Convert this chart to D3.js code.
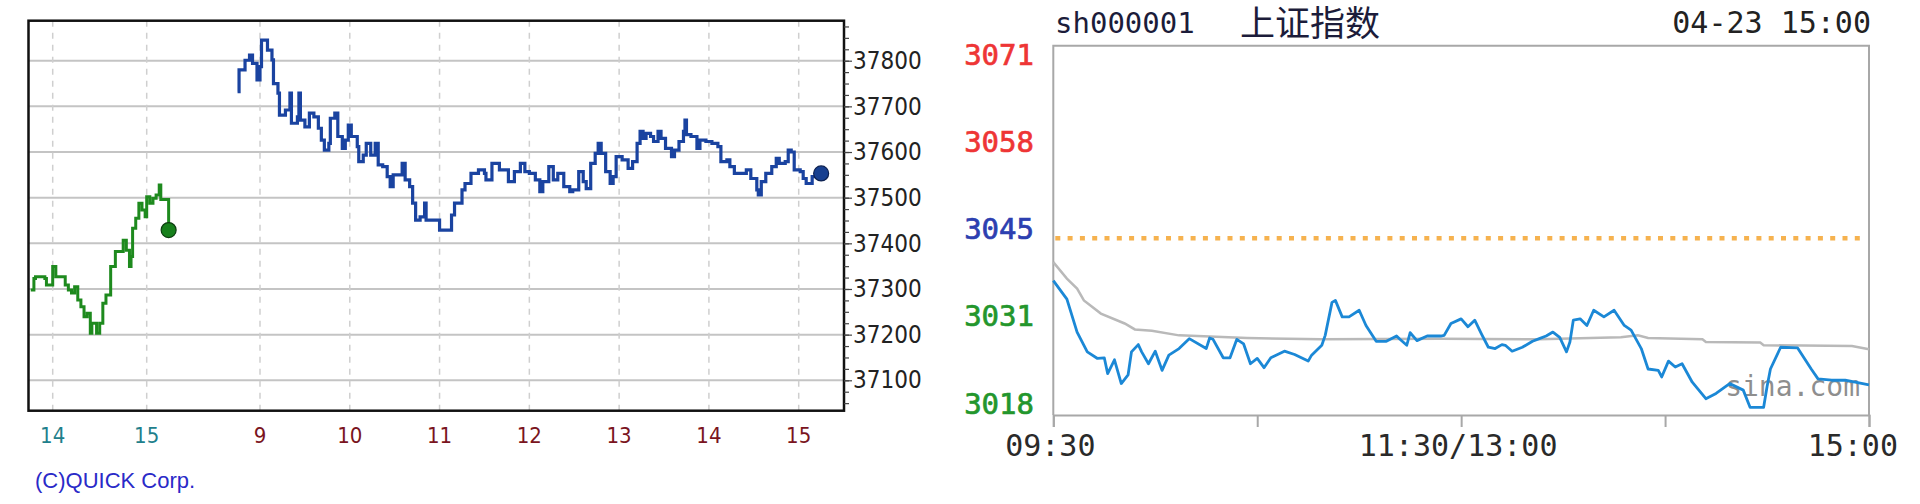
<!DOCTYPE html>
<html>
<head>
<meta charset="utf-8">
<script src="https://cdn.jsdelivr.net/npm/d3@7"></script>
<style>
  body { margin: 0; background: #fff; }
  svg { display: block; }
  .narrow { font-family: "Liberation Sans Narrow", "DejaVu Sans Condensed", "Arial Narrow", sans-serif; }
  .mono { font-family: "DejaVu Sans Mono", monospace; }
</style>
</head>
<body>
<svg id="chart" width="1920" height="504"></svg>
<script>
"use strict";

// ---- left panel: Nikkei 225 futures (previous afternoon + today's day session) ----
var nkYTicks = [37100, 37200, 37300, 37400, 37500, 37600, 37700, 37800];
var nkPrevHours = ["14:00", "15:00"];
var nkTodayHours = ["09:00", "10:00", "11:00", "12:00", "13:00", "14:00", "15:00"];

var nkPrev = [
  ["13:46",37298],["13:48",37323],["13:49",37327],["13:55",37323],["13:56",37309],["13:58",37309],
  ["14:00",37349],["14:02",37327],["14:04",37327],["14:08",37309],["14:10",37298],["14:12",37291],
  ["14:14",37305],["14:16",37276],["14:18",37261],["14:20",37239],["14:22",37247],["14:24",37203],
  ["14:25",37225],["14:28",37203],["14:30",37225],["14:32",37269],["14:34",37287],["14:37",37349],
  ["14:40",37382],["14:45",37407],["14:47",37385],["14:49",37349],["14:50",37371],["14:51",37433],
  ["14:53",37455],["14:55",37488],["14:57",37473],["14:59",37458],["15:00",37502],["15:02",37488],
  ["15:04",37499],["15:06",37506],["15:08",37528],["15:09",37496],["15:14",37429]
];

var nkToday = [
  ["08:45",37732],["08:46",37780],["08:50",37801],["08:53",37812],["08:55",37794],["08:58",37758],
  ["09:00",37787],["09:01",37845],["09:04",37845],["09:05",37823],["09:08",37802],["09:09",37750],
  ["09:12",37729],["09:13",37681],["09:17",37692],["09:20",37729],["09:21",37663],["09:25",37677],
  ["09:26",37729],["09:27",37670],["09:30",37655],["09:33",37685],["09:36",37677],["09:39",37652],
  ["09:41",37626],["09:43",37604],["09:46",37619],["09:47",37674],["09:50",37685],["09:52",37634],
  ["09:55",37608],["09:57",37626],["09:59",37659],["10:01",37634],["10:05",37612],["10:06",37579],
  ["10:09",37593],["10:11",37619],["10:14",37593],["10:17",37619],["10:19",37572],["10:22",37568],
  ["10:25",37546],["10:27",37524],["10:29",37550],["10:35",37575],["10:37",37539],["10:40",37524],
  ["10:42",37488],["10:44",37451],["10:47",37458],["10:50",37488],["10:51",37451],["10:58",37451],
  ["11:00",37429],["11:05",37429],["11:08",37462],["11:10",37488],["11:15",37517],["11:17",37531],
  ["11:21",37553],["11:26",37561],["11:30",37553],["11:31",37539],["11:35",37575],["11:39",37575],
  ["11:40",37561],["11:45",37561],["11:46",37535],["11:50",37557],["11:54",37575],["11:57",37557],
  ["12:00",37553],["12:04",37539],["12:07",37513],["12:09",37535],["12:13",37568],["12:16",37539],
  ["12:19",37553],["12:23",37524],["12:27",37513],["12:29",37517],["12:33",37557],["12:36",37535],
  ["12:38",37520],["12:41",37575],["12:44",37597],["12:46",37619],["12:48",37597],["12:51",37557],
  ["12:54",37531],["12:56",37546],["12:58",37590],["13:02",37583],["13:06",37564],["13:09",37579],
  ["13:12",37619],["13:14",37645],["13:16",37630],["13:18",37641],["13:21",37634],["13:23",37623],
  ["13:26",37645],["13:28",37630],["13:31",37608],["13:35",37590],["13:37",37604],["13:40",37623],
  ["13:43",37645],["13:44",37670],["13:45",37638],["13:48",37634],["13:52",37608],["13:54",37626],
  ["13:58",37623],["14:02",37619],["14:06",37612],["14:08",37579],["14:12",37583],["14:14",37568],
  ["14:17",37553],["14:22",37553],["14:25",37561],["14:28",37542],["14:32",37517],["14:33",37506],
  ["14:35",37535],["14:38",37553],["14:42",37568],["14:45",37586],["14:47",37575],["14:51",37579],
  ["14:53",37604],["14:55",37600],["14:57",37561],["15:01",37557],["15:03",37542],["15:05",37531],
  ["15:09",37546],["15:12",37550],["15:15",37553]
];

// ---- right panel: Shanghai composite, minutes after 09:30 (lunch break removed) ----
var sseCode = "sh000001", sseName = "上证指数", sseStamp = "04-23 15:00";
var ssePrevClose = 3044.6;
var sseLevels = [3071, 3057.8, 3044.6, 3031.4, 3018.2];
var sseTicks = [0, 60, 120, 180, 240];
var sseTimeLabels = [[0, "09:30"], [120, "11:30/13:00"], [240, "15:00"]];

var ssePrice = [
  [0,3038.2],[4,3035.4],[7,3030.4],[10,3027.4],[13,3026.4],[15,3026.5],[16,3024.1],[18,3026.2],
  [20,3022.6],[22,3023.9],[23,3027.4],[25,3028.5],[26,3027.4],[28,3025.6],[30,3027.5],[32,3024.6],
  [34,3026.9],[37,3027.9],[40,3029.4],[45,3027.9],[46,3029.5],[47,3029.3],[50,3026.5],[52,3026.5],
  [54,3029.3],[56,3028.6],[58,3025.6],[60,3026.4],[62,3025.0],[64,3026.5],[68,3027.5],[71,3027.0],
  [75,3026.0],[76,3026.9],[79,3028.4],[80,3029.9],[82,3034.9],[83,3035.2],[85,3032.7],[87,3032.7],
  [90,3033.7],[92,3031.4],[95,3029.0],[98,3029.0],[101,3029.8],[102,3029.3],[104,3028.4],[105,3030.3],
  [107,3029.1],[110,3029.8],[114,3029.8],[115,3029.9],[117,3031.7],[120,3032.4],[122,3031.2],[124,3032.2],
  [126,3030.1],[128,3028.1],[130,3027.9],[132,3028.5],[133,3028.4],[135,3027.5],[138,3028.1],[141,3029.0],
  [143,3029.4],[145,3029.8],[147,3030.4],[149,3029.6],[151,3027.4],[152,3028.9],[153,3032.2],[155,3032.4],
  [157,3031.4],[159,3033.7],[162,3032.7],[165,3033.7],[168,3031.4],[170,3030.7],[173,3027.9],[175,3024.8],
  [178,3024.6],[179,3023.6],[181,3026.0],[183,3025.1],[185,3025.6],[188,3022.8],[192,3020.3],[195,3021.1],
  [199,3022.6],[203,3021.6],[205,3019.0],[209,3019.0],[210,3022.1],[211,3024.8],[214,3028.1],[219,3028.0],
  [223,3024.8],[225,3023.3],[229,3023.1],[233,3023.1],[240,3022.4]
];

var sseAvg = [
  [0,3041.0],[4,3038.5],[7,3037.0],[9,3035.2],[14,3033.2],[21,3031.7],[24,3030.8],[29,3030.6],
  [37,3029.9],[57,3029.5],[79,3029.3],[114,3029.4],[143,3029.3],[167,3029.6],[172,3029.9],[175,3029.5],
  [191,3029.3],[192,3028.9],[208,3028.8],[209,3028.4],[235,3028.3],[240,3027.8]
];

var svg = d3.select("#chart");
var parseT = d3.timeParse("%H:%M");

// ================= left panel =================
var nk = {left: 28.5, top: 20.7, right: 844, bottom: 410.7};
var yNk = d3.scaleLinear().domain([37100, 37800]).range([380.3, 60.7]);
var xPrev = d3.scaleTime().domain([parseT("14:00"), parseT("15:00")]).range([52.7, 146.7]);
var xToday = d3.scaleTime().domain([parseT("09:00"), parseT("15:00")]).range([260, 798.7]);
var hourFmt = d3.timeFormat("%-H");

var left = svg.append("g");

// horizontal grid
left.selectAll(".hgrid")
  .data(nkYTicks)
  .enter().append("line")
  .attr("x1", nk.left).attr("x2", nk.right)
  .attr("y1", function (d) { return yNk(d); })
  .attr("y2", function (d) { return yNk(d); })
  .attr("stroke", "#c4c4c4")
  .attr("stroke-width", 2);

// vertical dashed grid
var vgrid = nkPrevHours.map(function (h) { return xPrev(parseT(h)); })
  .concat(nkTodayHours.map(function (h) { return xToday(parseT(h)); }));
left.selectAll(".vgrid")
  .data(vgrid)
  .enter().append("line")
  .attr("x1", function (d) { return d; })
  .attr("x2", function (d) { return d; })
  .attr("y1", nk.top).attr("y2", nk.bottom)
  .attr("stroke", "#cfcfcf")
  .attr("stroke-width", 1.5)
  .attr("stroke-dasharray", "6,6");

// box
left.append("rect")
  .attr("x", nk.left).attr("y", nk.top)
  .attr("width", nk.right - nk.left).attr("height", nk.bottom - nk.top)
  .attr("fill", "none")
  .attr("stroke", "#111")
  .attr("stroke-width", 2.5);

// right axis: minor ticks every 25, labelled ticks every 100
var minorAxis = d3.axisRight(yNk)
  .tickValues(d3.range(37050, 37876, 25))
  .tickSize(5)
  .tickFormat("");
left.append("g")
  .attr("transform", "translate(" + nk.right + ",0)")
  .call(minorAxis)
  .call(function (g) { g.select(".domain").remove(); })
  .selectAll("line").attr("stroke", "#444").attr("stroke-width", 1.2);

var majorAxis = d3.axisRight(yNk)
  .tickValues(nkYTicks)
  .tickSize(8)
  .tickPadding(1)
  .tickFormat(d3.format("d"));
var yAxisG = left.append("g")
  .attr("transform", "translate(" + nk.right + ",0)")
  .call(majorAxis);
yAxisG.select(".domain").remove();
yAxisG.selectAll("line").attr("stroke", "#444").attr("stroke-width", 1.2);
yAxisG.selectAll("text")
  .attr("class", "narrow")
  .attr("font-size", 24)
  .attr("fill", "#222");

// bottom hour labels
left.selectAll(".prevLabel")
  .data(nkPrevHours)
  .enter().append("text")
  .attr("class", "narrow")
  .attr("x", function (d) { return xPrev(parseT(d)); })
  .attr("y", 443)
  .attr("text-anchor", "middle")
  .attr("font-size", 22)
  .attr("fill", "#1f7f8c")
  .text(function (d) { return hourFmt(parseT(d)); });

left.selectAll(".todayLabel")
  .data(nkTodayHours)
  .enter().append("text")
  .attr("class", "narrow")
  .attr("x", function (d) { return xToday(parseT(d)); })
  .attr("y", 443)
  .attr("text-anchor", "middle")
  .attr("font-size", 22)
  .attr("fill", "#7a1420")
  .text(function (d) { return hourFmt(parseT(d)); });

left.append("text")
  .attr("x", 35).attr("y", 488)
  .attr("font-family", "Liberation Sans, sans-serif")
  .attr("font-size", 22)
  .attr("fill", "#2a2ac8")
  .text("(C)QUICK Corp.");

// price lines
function nkLine(xs) {
  return d3.line()
    .x(function (d) { return xs(parseT(d[0])); })
    .y(function (d) { return yNk(d[1]); })
    .curve(d3.curveStepAfter);
}

left.append("path")
  .datum(nkPrev)
  .attr("d", nkLine(xPrev))
  .attr("fill", "none")
  .attr("stroke", "#1e8a1e")
  .attr("stroke-width", 3);

left.append("path")
  .datum(nkToday)
  .attr("d", nkLine(xToday))
  .attr("fill", "none")
  .attr("stroke", "#1a43a0")
  .attr("stroke-width", 3.2);

var prevLast = nkPrev[nkPrev.length - 1];
var todayLast = nkToday[nkToday.length - 1];
left.append("circle")
  .attr("cx", xPrev(parseT(prevLast[0])))
  .attr("cy", yNk(prevLast[1]))
  .attr("r", 7.5)
  .attr("fill", "#17801c")
  .attr("stroke", "#0d3d10")
  .attr("stroke-width", 1.2);
left.append("circle")
  .attr("cx", xToday(parseT(todayLast[0])))
  .attr("cy", yNk(todayLast[1]))
  .attr("r", 7.5)
  .attr("fill", "#173f90")
  .attr("stroke", "#0c2050")
  .attr("stroke-width", 1.2);

// ================= right panel =================
var ss = {left: 1053.3, top: 45.7, right: 1869, bottom: 415};
var xSse = d3.scaleLinear().domain([0, 240]).range([ss.left, ss.right]);
var ySse = d3.scaleLinear().domain([3017.83, 3073.8]).range([ss.bottom, ss.top]);

var right = svg.append("g");

right.append("text")
  .attr("class", "mono")
  .attr("x", 1055).attr("y", 33)
  .attr("font-size", 29)
  .attr("fill", "#1c1c3a")
  .text(sseCode);
right.append("text")
  .attr("x", 1240).attr("y", 36)
  .attr("font-family", "Noto Sans CJK SC, sans-serif")
  .attr("font-size", 35)
  .attr("fill", "#1c1c3a")
  .text(sseName);
right.append("text")
  .attr("class", "mono")
  .attr("x", 1871).attr("y", 33)
  .attr("text-anchor", "end")
  .attr("font-size", 30)
  .attr("fill", "#222")
  .text(sseStamp);

// frame: top, left, right and the time axis
right.append("path")
  .attr("d", "M" + ss.left + "," + ss.bottom + "V" + ss.top + "H" + ss.right + "V" + ss.bottom)
  .attr("fill", "none")
  .attr("stroke", "#a8a8a8")
  .attr("stroke-width", 2);

var xAxisSse = d3.axisBottom(xSse)
  .tickValues(sseTicks)
  .tickSize(12)
  .tickFormat("");
right.append("g")
  .attr("transform", "translate(0," + ss.bottom + ")")
  .call(xAxisSse)
  .call(function (g) {
    g.select(".domain").attr("stroke", "#a8a8a8").attr("stroke-width", 2);
    g.selectAll("line").attr("stroke", "#a8a8a8").attr("stroke-width", 2);
  });

right.selectAll(".tlabel")
  .data(sseTimeLabels)
  .enter().append("text")
  .attr("class", "mono")
  .attr("x", function (d) { return d[0] === 240 ? xSse(d[0]) + 29 : xSse(d[0]) - 3; })
  .attr("y", 456)
  .attr("text-anchor", function (d) { return d[0] === 240 ? "end" : "middle"; })
  .attr("font-size", 30)
  .attr("fill", "#2a2a2a")
  .text(function (d) { return d[1]; });

// price level labels
var fmt0 = d3.format(".0f");
right.selectAll(".level")
  .data(sseLevels)
  .enter().append("text")
  .attr("class", "mono")
  .attr("x", 1034)
  .attr("y", function (d) { return ySse(d) + 1; })
  .attr("text-anchor", "end")
  .attr("font-size", 29)
  .attr("fill", function (d) {
    if (d > ssePrevClose) return "#ee3535";
    if (d < ssePrevClose) return "#23962c";
    return "#2d3fb0";
  })
  .attr("stroke", function (d) {
    if (d > ssePrevClose) return "#ee3535";
    if (d < ssePrevClose) return "#23962c";
    return "#2d3fb0";
  })
  .attr("stroke-width", 0.7)
  .text(function (d) { return fmt0(d); });

// previous close
right.append("line")
  .attr("x1", ss.left + 2).attr("x2", ss.right - 2)
  .attr("y1", ySse(ssePrevClose)).attr("y2", ySse(ssePrevClose))
  .attr("stroke", "#f6b24f")
  .attr("stroke-width", 4.5)
  .attr("stroke-dasharray", "5,7.3");

// watermark
right.append("text")
  .attr("class", "mono")
  .attr("x", 1860).attr("y", 396)
  .attr("text-anchor", "end")
  .attr("font-size", 28)
  .attr("fill", "#7a7a7a")
  .attr("fill-opacity", 0.85)
  .text("sina.com");

var sseLine = d3.line()
  .x(function (d) { return xSse(d[0]); })
  .y(function (d) { return ySse(d[1]); });

right.append("path")
  .datum(sseAvg)
  .attr("d", sseLine)
  .attr("fill", "none")
  .attr("stroke", "#b9b9b9")
  .attr("stroke-width", 2.5);

right.append("path")
  .datum(ssePrice)
  .attr("d", sseLine)
  .attr("fill", "none")
  .attr("stroke", "#1b88d6")
  .attr("stroke-width", 2.8)
  .attr("stroke-linejoin", "round");
</script>
</body>
</html>
